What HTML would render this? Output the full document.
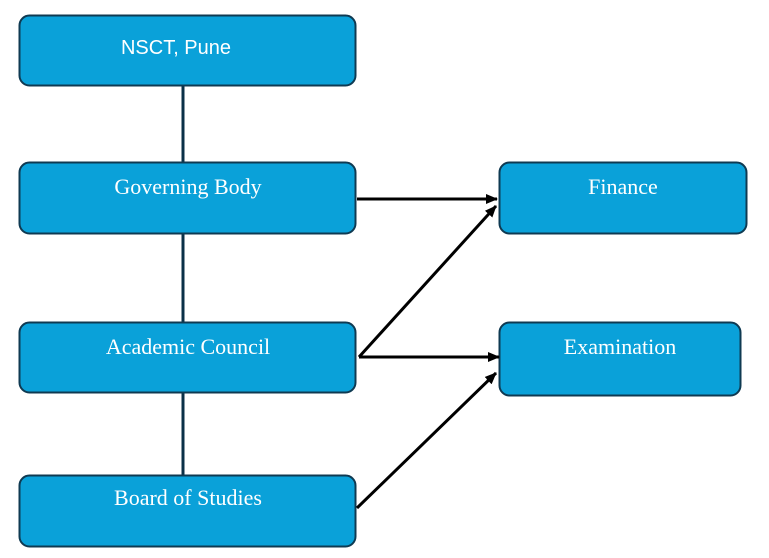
<!DOCTYPE html>
<html><head><meta charset="utf-8"><style>
html,body{margin:0;padding:0;background:#fff;width:769px;height:558px;overflow:hidden}
</style></head><body>
<svg width="769" height="558" viewBox="0 0 769 558" xmlns="http://www.w3.org/2000/svg">
<defs><marker id="a" markerWidth="12" markerHeight="10" refX="11" refY="5" orient="auto" markerUnits="userSpaceOnUse"><path d="M0,0 L12,5 L0,10 z" fill="#000"/></marker></defs>
<g stroke="#0b3148" stroke-width="3"><line x1="183" y1="85" x2="183" y2="162"/><line x1="183" y1="233" x2="183" y2="322"/><line x1="183" y1="392" x2="183" y2="475"/></g>
<g fill="#0aa1d9" stroke="#0f3a52" stroke-width="2">
<rect x="19.5" y="15.5" width="336" height="70" rx="10"/>
<rect x="19.5" y="162.5" width="336" height="71" rx="10"/>
<rect x="19.5" y="322.5" width="336" height="70" rx="10"/>
<rect x="19.5" y="475.5" width="336" height="71" rx="10"/>
<rect x="499.5" y="162.5" width="247" height="71" rx="10"/>
<rect x="499.5" y="322.5" width="241" height="73" rx="10"/>
</g>
<g stroke="#000" stroke-width="3" fill="none" marker-end="url(#a)">
<line x1="357" y1="199" x2="497" y2="199"/>
<line x1="359" y1="357" x2="496" y2="206"/>
<line x1="359" y1="357" x2="499" y2="357"/>
<line x1="357" y1="508" x2="496" y2="373"/>
</g>
<g fill="#fff" text-anchor="middle">
<text x="176" y="54" font-family="Liberation Sans, sans-serif" font-size="20">NSCT, Pune</text>
<text x="188" y="194" font-family="Liberation Serif, serif" font-size="22">Governing Body</text>
<text x="188" y="354" font-family="Liberation Serif, serif" font-size="22">Academic Council</text>
<text x="188" y="505" font-family="Liberation Serif, serif" font-size="22">Board of Studies</text>
<text x="623" y="194" font-family="Liberation Serif, serif" font-size="22">Finance</text>
<text x="620" y="354" font-family="Liberation Serif, serif" font-size="22">Examination</text>
</g>
</svg>
</body></html>
